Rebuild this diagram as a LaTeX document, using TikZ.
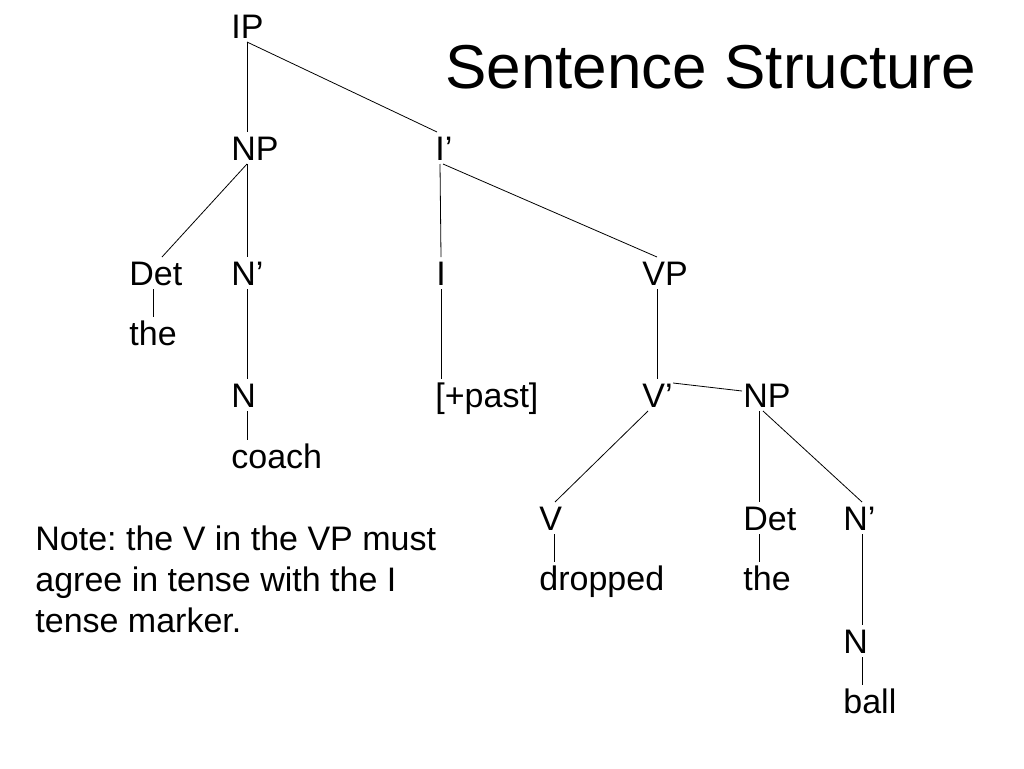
\documentclass[tikz,border=0pt]{standalone}
\usepackage{fontspec}
\setmainfont{Liberation Sans}
\frenchspacing

\begin{document}
\begin{tikzpicture}[x=1pt,y=-1pt,line width=0.8pt,
    every node/.style={anchor=base west,inner sep=0pt,font=\fontsize{34}{41}\selectfont},
    lbl/.style={text height=24pt,text depth=0pt,outer ysep=4pt}]
  \useasboundingbox (0,0) rectangle (1024,768);
  \node[font=\fontsize{62}{70}\selectfont] (title) at (445,88) {Sentence Structure};
  \foreach \n/\x/\y/\t in {ip/231/38/IP, np/231/160/NP, ib/435/160/I', det/129/285/Det,
      nb/231/285/N', i/436/285/I, vp/642/285/VP, the/129/345/the, n/231/407/N,
      past/435/407/{[+past]}, vb/642/407/V', np2/743/407/NP, coach/231/468/coach,
      v/539/530/V, det2/743/530/Det, nb2/843/530/N', dropped/539/590/dropped,
      the2/743/590/the, n2/843/653/N, ball/843/713/ball}
    \path (\x,\y) node[lbl] (\n) {\t};
  \draw ([xshift=16pt]ip.south west) -- ([xshift=16pt]np.north west);
  \draw ([xshift=16pt]ip.south west) -- ([xshift=2pt]ib.north west);
  \draw ([xshift=16pt]np.south west) -- ([xshift=16pt]nb.north west);
  \draw ([xshift=16pt]np.south west) -- ([xshift=33pt]det.north west);
  \draw ([xshift=5pt]ib.south west) -- ([xshift=5pt]i.north west);
  \draw ([xshift=8pt]ib.south west) -- ([xshift=15pt]vp.north west);
  \draw ([xshift=24pt]det.south west) -- ([xshift=24pt]the.north west);
  \draw ([xshift=16pt]nb.south west) -- ([xshift=16pt]n.north west);
  \draw ([xshift=5pt]i.south west) -- ([xshift=6pt]past.north west);
  \draw ([xshift=15pt]vp.south west) -- ([xshift=15pt]vb.north west);
  \draw ([yshift=-4pt]vb.north east) -- ([xshift=-1pt,yshift=-12pt]np2.north west);
  \draw ([xshift=16pt]n.south west) -- ([xshift=16pt]coach.north west);
  \draw ([xshift=6pt]vb.south west) -- ([xshift=16pt]v.north west);
  \draw ([xshift=16pt]np2.south west) -- ([xshift=16pt]det2.north west);
  \draw ([xshift=20pt]np2.south west) -- ([xshift=19pt]nb2.north west);
  \draw ([xshift=15pt]v.south west) -- ([xshift=15pt]dropped.north west);
  \draw ([xshift=16pt]det2.south west) -- ([xshift=16pt]the2.north west);
  \draw ([xshift=19pt]nb2.south west) -- ([xshift=19pt]n2.north west);
  \draw ([xshift=19pt]n2.south west) -- ([xshift=19pt]ball.north west);
  % base of a multi-line node is its last line
  \node[align=left] (note) at (35,632) {Note: the V in the VP must\\agree in tense with the I\\tense marker.};
\end{tikzpicture}
\end{document}
